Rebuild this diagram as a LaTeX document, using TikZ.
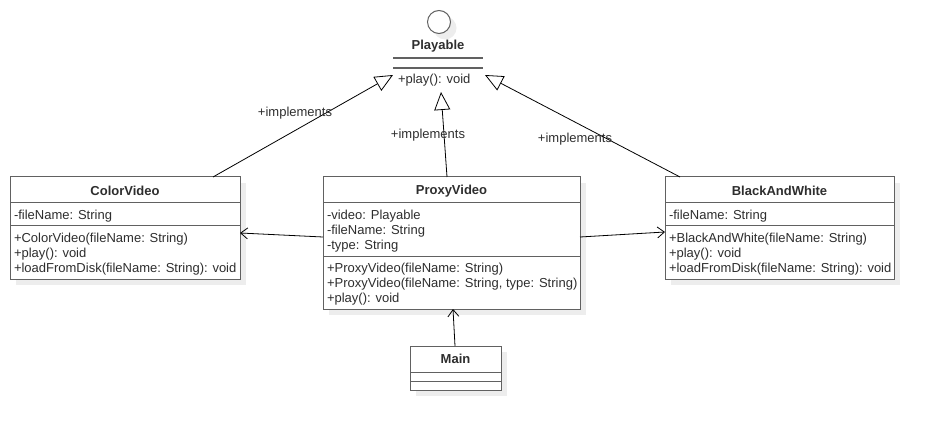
\documentclass[tikz,border=0pt]{standalone}
\usepackage{fontspec}
\setmainfont{Liberation Sans}
\usetikzlibrary{arrows.meta,shadows}
\begin{document}
\begin{tikzpicture}[x=1pt,y=-1pt,
  font=\fontsize{13}{15}\selectfont,
  txt/.style={text=black!82, inner sep=0pt, outer sep=0pt, yshift=-1pt},
  title/.style={txt, font=\fontsize{13}{15}\selectfont\bfseries},
  mem/.style={txt, anchor=base west},
  shad/.style={drop shadow={shadow xshift=6pt, shadow yshift=-6pt, fill=black!7, opacity=1}},
  cls/.style={draw=black!62, line width=1pt, fill=white, inner sep=0pt, outer sep=0pt, anchor=north west, shad},
  sepline/.style={draw=black!62, line width=1pt},
  impl/.style={draw=black, line width=0.8pt, -{Triangle[open, length=18pt, width=16pt]}},
  dep/.style={draw=black, line width=0.8pt, -{Straight Barb[length=7pt, width=11pt]}},
  lab/.style={txt, fill=none}
]
\useasboundingbox (0,0) rectangle (933,430);

% ---------- Playable (interface) ----------
\node[circle, draw=black!62, line width=1pt, fill=white, minimum size=23pt, inner sep=0pt, shad] (plc) at (439,22) {};
\node[title] (plt) at (438,45) {Playable};
\draw[sepline, line width=1.3pt] (393,58) -- (483,58);
\draw[sepline, line width=1.3pt] (393,68) -- (483,68);
\node[mem] (plm) at (398,82.5) {+play(): void};
\coordinate (pltipL) at (393,75);
\coordinate (pltipM) at (441,92);
\coordinate (pltipR) at (485,75);

% ---------- ColorVideo ----------
\node[cls, minimum width=230pt, minimum height=102pt] (cv) at (10,177) {};
\draw[sepline] ([yshift=-26pt]cv.north west) -- ([yshift=-26pt]cv.north east);
\draw[sepline] ([yshift=-49pt]cv.north west) -- ([yshift=-49pt]cv.north east);
\node[title] (cvt) at (125,190) {ColorVideo};
\node[mem] (cva1) at (14,218.5) {-fileName: String};
\node[mem] (cvm1) at (14,241.5) {+ColorVideo(fileName: String)};
\node[mem] (cvm2) at (14,256.5) {+play(): void};
\node[mem] (cvm3) at (14,271.5) {+loadFromDisk(fileName: String): void};

% ---------- ProxyVideo ----------
\node[cls, minimum width=257pt, minimum height=132pt] (pv) at (323,177) {};
\draw[sepline] ([yshift=-26pt]pv.north west) -- ([yshift=-26pt]pv.north east);
\draw[sepline] ([yshift=-79pt]pv.north west) -- ([yshift=-79pt]pv.north east);
\node[title] (pvt) at (451.5,190) {ProxyVideo};
\node[mem] (pva1) at (327,218.5) {-video: Playable};
\node[mem] (pva2) at (327,233.5) {-fileName: String};
\node[mem] (pva3) at (327,248.5) {-type: String};
\node[mem] (pvm1) at (327,271.5) {+ProxyVideo(fileName: String)};
\node[mem] (pvm2) at (327,286.5) {+ProxyVideo(fileName: String, type: String)};
\node[mem] (pvm3) at (327,301.5) {+play(): void};

% ---------- BlackAndWhite ----------
\node[cls, minimum width=229pt, minimum height=102pt] (bw) at (665,177) {};
\draw[sepline] ([yshift=-26pt]bw.north west) -- ([yshift=-26pt]bw.north east);
\draw[sepline] ([yshift=-49pt]bw.north west) -- ([yshift=-49pt]bw.north east);
\node[title] (bwt) at (779.5,190) {BlackAndWhite};
\node[mem] (bwa1) at (669,218.5) {-fileName: String};
\node[mem] (bwm1) at (669,241.5) {+BlackAndWhite(fileName: String)};
\node[mem] (bwm2) at (669,256.5) {+play(): void};
\node[mem] (bwm3) at (669,271.5) {+loadFromDisk(fileName: String): void};

% ---------- Main ----------
\node[cls, minimum width=91pt, minimum height=44pt] (mn) at (410,346) {};
\draw[sepline] ([yshift=-26pt]mn.north west) -- ([yshift=-26pt]mn.north east);
\draw[sepline] ([yshift=-35pt]mn.north west) -- ([yshift=-35pt]mn.north east);
\node[title] (mnt) at (455.5,358) {Main};

% ---------- connectors ----------
\coordinate (cvtop) at (213,177);
\coordinate (pvtop) at (447,177);
\coordinate (bwtop) at (680,177);
\draw[impl] (cvtop) -- (pltipL);
\draw[impl] (pvtop) -- (pltipM);
\draw[impl] (bwtop) -- (pltipR);
\node[lab] (l1) at (295,112) {+implements};
\node[lab] (l2) at (428,134) {+implements};
\node[lab] (l3) at (575,138) {+implements};

\coordinate (pvL) at (323,237);
\coordinate (cvR) at (240,233);
\coordinate (pvR) at (580,237);
\coordinate (bwL) at (665,232);
\draw[dep] (pvL) -- (cvR);
\draw[dep] (pvR) -- (bwL);
\coordinate (mnTop) at (455,346);
\coordinate (pvBot) at (453,309);
\draw[dep] (mnTop) -- (pvBot);
\end{tikzpicture}
\end{document}
